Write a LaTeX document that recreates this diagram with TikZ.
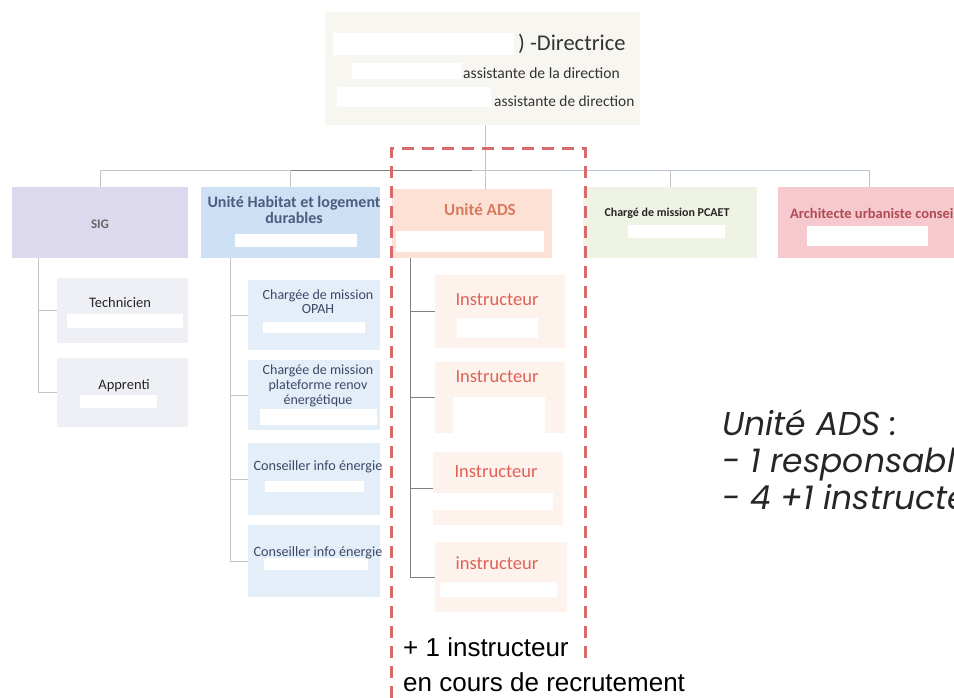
\documentclass[tikz,border=0pt]{standalone}
\usepackage{fontspec}
\setmainfont{Carlito}
\newfontfamily\arialf{Liberation Sans}
\newfontfamily\gothicf{Poppins}
\definecolor{dirfill}{HTML}{F8F6F0}
\definecolor{sigfill}{HTML}{DCD8EE}
\definecolor{habfill}{HTML}{CDE0F4}
\definecolor{adsfill}{HTML}{FCE1D4}
\definecolor{pcafill}{HTML}{EEF3E3}
\definecolor{arcfill}{HTML}{F5C9CD}
\definecolor{sigsub}{HTML}{EEF0F5}
\definecolor{habsub}{HTML}{E3EEF8}
\definecolor{adssub}{HTML}{FDF2EC}
\definecolor{conncol}{HTML}{C4C4C4}
\definecolor{busblue}{HTML}{B8C4DC}
\definecolor{dashred}{HTML}{D86B69}
\definecolor{habtxt}{HTML}{4B5D80}
\definecolor{subtxt}{HTML}{3D4868}
\definecolor{adstxt}{HTML}{D87A60}
\definecolor{instxt}{HTML}{E06055}
\definecolor{arctxt}{HTML}{B24A55}
\definecolor{dirtxt}{HTML}{333333}
\tikzset{
  box/.style={draw=none, inner sep=0, rectangle},
  lbl/.style={inner sep=0, align=center},
  conn/.style={draw=conncol, line width=0.8pt},
  redact/.style={fill=white},
  recruit/.style={draw=dashred, line width=3pt, dash pattern=on 12pt off 8pt},
}
\newcommand{\fs}[2]{\fontsize{#1}{#2}\selectfont}
\begin{document}
\begin{tikzpicture}[x=1pt,y=-1pt]
\useasboundingbox (0,0) rectangle (954,698);
% boxes
\node[box, fill=dirfill, minimum width=315pt, minimum height=113pt] (dir) at (482.5,68.5) {};
\node[box, fill=sigfill, minimum width=176pt, minimum height=71pt] (sig) at (100,222.5) {};
\node[box, fill=habfill, minimum width=179pt, minimum height=71pt] (hab) at (290.5,222.5) {};
\node[box, fill=adsfill, minimum width=160pt, minimum height=69pt] (ads) at (472,223.5) {};
\node[box, fill=pcafill, minimum width=174pt, minimum height=71pt] (pca) at (670,222.5) {};
\node[box, fill=arcfill, minimum width=182pt, minimum height=71pt] (arc) at (869,222.5) {};
\node[box, fill=sigsub, minimum width=131pt, minimum height=65pt] (tech) at (122.5,310.5) {};
\node[box, fill=sigsub, minimum width=131pt, minimum height=69pt] (appr) at (122.5,392.5) {};
\node[box, fill=habsub, minimum width=132pt, minimum height=70pt] (opah) at (314,315) {};
\node[box, fill=habsub, minimum width=132pt, minimum height=70pt] (plat) at (314,395) {};
\node[box, fill=habsub, minimum width=132pt, minimum height=72pt] (cie1) at (314,479) {};
\node[box, fill=habsub, minimum width=132pt, minimum height=72pt] (cie2) at (314,561) {};
\node[box, fill=adssub, minimum width=130pt, minimum height=73pt] (in1) at (500,311.5) {};
\node[box, fill=adssub, minimum width=130pt, minimum height=71pt] (in2) at (500,397.5) {};
\node[box, fill=adssub, minimum width=130pt, minimum height=73pt] (in3) at (498,488.5) {};
\node[box, fill=adssub, minimum width=132pt, minimum height=70pt] (in4) at (501,577) {};
% connectors
\coordinate (bus) at (485,170);
\draw[conn] (bus |- dir.south) -- (bus);
\draw[conn] (sig.north |- bus) -- (hab.north |- bus);
\draw[conn, draw=gray] (hab.north |- bus) -- (ads.north |- bus);
\draw[conn] (ads.north |- bus) -- (bus -| ads.east);
\draw[conn, draw=busblue] (bus -| ads.east) -- (arc.north |- bus);
\foreach \b in {sig,hab,pca,arc} \draw[conn] (\b.north |- bus) -- (\b.north);
\draw[conn] (bus) -- (bus |- ads.north);
\coordinate (sigv) at (38,258);
\draw[conn] (sigv) |- (appr.west);
\draw[conn] (tech.west) -- (tech.west -| sigv);
\coordinate (habv) at (230,258);
\draw[conn] (habv) |- (cie2.west);
\foreach \b in {opah,plat,cie1} \draw[conn] (\b.west) -- (\b.west -| habv);
\coordinate (adsv) at (410,258);
\draw[conn, draw=gray] (adsv) |- (in4.west);
\foreach \b in {in1,in2,in3} \draw[conn, draw=gray] (\b.west) -- (\b.west -| adsv);
% redactions
\fill[redact] (333,33) rectangle (514,55);
\fill[redact] (352,63) rectangle (461,79);
\fill[redact] (337,87) rectangle (491,107);
\fill[redact] (235,234) rectangle (357,247);
\fill[redact] (396,231) rectangle (544,252);
\fill[redact] (628,225) rectangle (725,238);
\fill[redact] (807,226) rectangle (928,246);
\fill[redact] (67,314) rectangle (183,328);
\fill[redact] (80,395) rectangle (157,408);
\fill[redact] (263,322) rectangle (365,333);
\fill[redact] (260,409) rectangle (377,425);
\fill[redact] (265,481) rectangle (364,492);
\fill[redact] (264,558) rectangle (368,570);
\fill[redact] (457,318) rectangle (538,338);
\fill[redact] (453,397) rectangle (545,433);
\fill[redact] (432,493) rectangle (553,510);
\fill[redact] (440,582) rectangle (557,597);
% texts
\node[lbl, anchor=west, text=dirtxt, font=\fs{22.5}{26}] (t-dir1) at (518,44) {) -Directrice};
\node[lbl, anchor=west, text=dirtxt, font=\fs{15.6}{17}] (t-dir2) at (463,73) {assistante de la direction};
\node[lbl, anchor=west, text=dirtxt, font=\fs{15.4}{17}] (t-dir3) at (494,101) {assistante de direction};
\node[lbl, text=gray!80!black, font=\bfseries\fs{13}{15}] (t-sig) at (100,224) {SIG};
\node[lbl, text=habtxt, font=\bfseries\fs{16}{15.5}] (t-hab) at (294,210) {Unité Habitat et logement\\durables};
\node[lbl, text=adstxt, font=\bfseries\fs{17}{18}] (t-ads) at (480,210) {Unité ADS};
\node[lbl, text=black!85, font=\bfseries\fs{12}{14}] (t-pca) at (667,213) {Chargé de mission PCAET};
\node[lbl, anchor=west, text=arctxt, font=\bfseries\fs{14.5}{16}] (t-arc) at (790,213) {Architecte urbaniste conseil};
\node[lbl, text=black!85, font=\fs{14.5}{15}] (t-tech) at (120,303) {Technicien};
\node[lbl, text=black!85, font=\fs{14.5}{15}] (t-appr) at (124,386) {Apprenti};
\node[lbl, text=subtxt, font=\fs{14}{14}] (t-opah) at (318,302) {Chargée de mission\\OPAH};
\node[lbl, text=subtxt, font=\fs{14}{15}] (t-plat) at (318,386) {Chargée de mission\\plateforme renov\\énergétique};
\node[lbl, text=subtxt, font=\fs{14.2}{15}] (t-cie1) at (318,467) {Conseiller info énergie};
\node[lbl, text=subtxt, font=\fs{14.2}{15}] (t-cie2) at (318,553) {Conseiller info énergie};
\node[lbl, text=instxt, font=\fs{18.5}{19}] (t-in1) at (497,300) {Instructeur};
\node[lbl, text=instxt, font=\fs{18.5}{19}] (t-in2) at (497,377) {Instructeur};
\node[lbl, text=instxt, font=\fs{18.5}{19}] (t-in3) at (496,472) {Instructeur};
\node[lbl, text=instxt, font=\fs{18.5}{19}] (t-in4) at (497,563) {instructeur};
% recruitment frame
\draw[recruit] (391,698) -- (391,149) -- (585,149) -- (585,663);
\node[lbl, anchor=west, font=\arialf\fs{26}{28}] (t-plus) at (403,647) {+ 1 instructeur};
\node[lbl, anchor=west, font=\arialf\fs{26}{28}] (t-rec) at (403,682) {en cours de recrutement};
% side note
\node[lbl, anchor=west, align=left, text=black!85, font=\gothicf\itshape\fs{33}{37}] (t-note) at (722,460) {Unité ADS :\\- 1 responsable\\- 4 +1 instructeurs};
\end{tikzpicture}
\end{document}
